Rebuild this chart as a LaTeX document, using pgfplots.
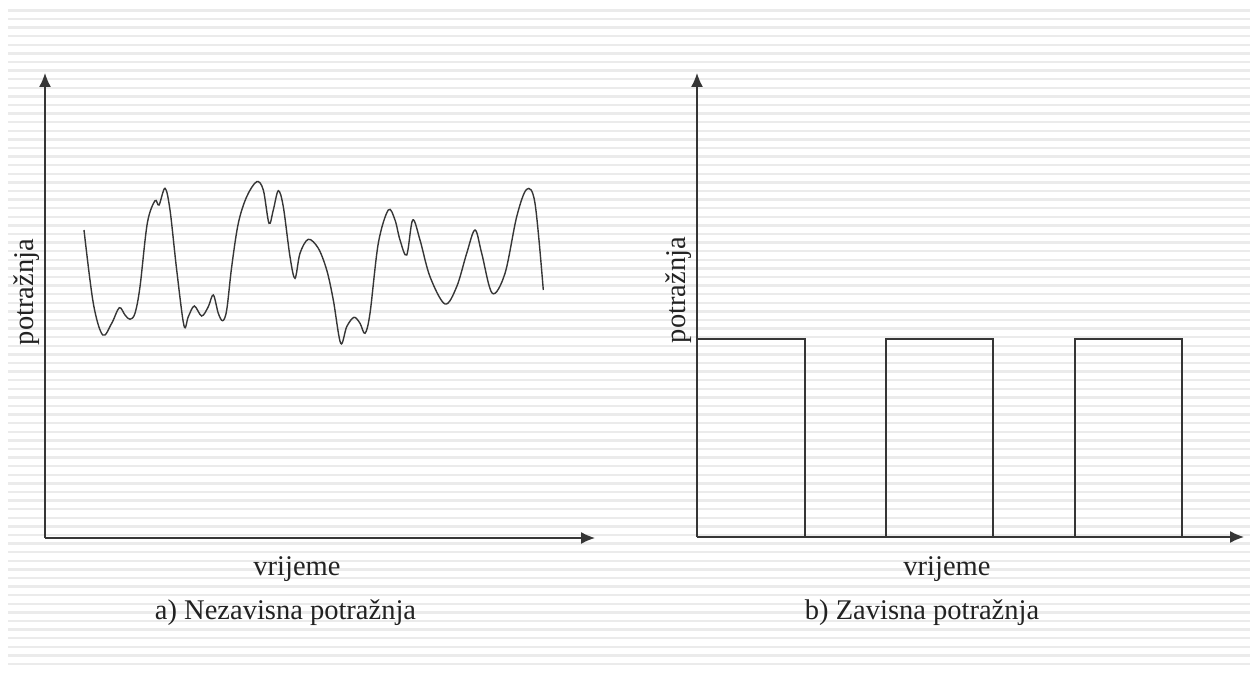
\documentclass[border=0pt]{standalone}
\usepackage{pgfplots}
\pgfplotsset{compat=1.18}
\usepackage{fontspec}
\setmainfont{Liberation Serif}
\usetikzlibrary{arrows.meta}
\definecolor{ink}{HTML}{363636}
\definecolor{txt}{HTML}{222222}
\definecolor{stripe}{HTML}{EBEBEB}
\tikzset{lbl/.style={font=\fontsize{28.5}{32}\selectfont, text=txt, inner sep=0pt}}
\pgfplotsset{
  bigarrows/.style={
    axis line style={ink, line width=1.4pt},
    every outer x axis line/.append style={-{Latex[length=14pt,width=12pt]}},
    every outer y axis line/.append style={-{Latex[length=14pt,width=12pt]}},
  }
}
\begin{document}
\begin{tikzpicture}
\useasboundingbox (0pt,0pt) rectangle (1257pt,675pt);
% background stripes
\begin{axis}[at={(8pt,0pt)}, anchor=south west, scale only axis,
  width=1242pt, height=675pt, xmin=0, xmax=1242, ymin=0, ymax=675,
  axis line style={draw=none}, tick style={draw=none},
  xtick=\empty, ytick={11,19.6,...,662}, yticklabels={},
  ymajorgrids, major grid style={color=stripe, line width=2.3pt}]
\end{axis}
% panel a
\begin{axis}[at={(45pt,137pt)}, anchor=south west, scale only axis,
  width=550pt, height=465pt, xmin=0, xmax=550, ymin=0, ymax=465,
  axis lines=left, ticks=none, clip=false, bigarrows]
\addplot[ink, line width=1.4pt, smooth, tension=0.55] coordinates {
(39,308) (48.3,234.7) (57.7,203) (66.7,214.7) (74.3,230.3) (80,223) (85,218.7)
(90,224.7) (95,251.3) (102.3,314.7) (110,337.3) (114,333) (120,349.7) (125,328)
(131.7,268) (139,212.3) (143.3,221.3) (149.3,232) (156.7,222) (163.3,231.3)
(168.3,243) (173.3,224.7) (177.7,217.3) (181.7,228) (186.7,271.3) (193.3,314.7)
(201.7,341.3) (211.7,356.3) (218.3,348) (224,314.7) (228.3,328) (233.3,347.3)
(238.3,331.3) (245,281.3) (250,259.7) (255,284.7) (263.3,298.7) (273.3,289.7)
(281.7,268) (288.3,238) (295.7,194.7) (301.7,211.3) (309,220.7) (315,214.7)
(320,204.7) (325,224.7) (333.3,294.7) (343.3,328) (350,318) (355,298)
(361.7,283) (367.7,318) (375,298) (385,261.3) (400,234) (411.7,251.3)
(421.7,284.7) (430,308) (436.7,284.7) (447.3,244.7) (460,264.7) (471.7,321.3)
(481.7,348.7) (490,334.7) (498.3,248)};
\node[lbl, anchor=base] at (axis cs:252,-37) {vrijeme};
\node[lbl, anchor=base] at (axis cs:240.5,-81) {a) Nezavisna potražnja};
\node[lbl, anchor=base, rotate=90] at (axis cs:-12,246) {potražnja};
\end{axis}
% panel b
\begin{axis}[at={(697pt,138pt)}, anchor=south west, scale only axis,
  width=547pt, height=464pt, xmin=0, xmax=547, ymin=0, ymax=464,
  axis lines=left, ticks=none, clip=false, bigarrows]
\addplot[ink, line width=1.4pt] coordinates {(0,0) (0,198) (108,198) (108,0)};
\addplot[ink, line width=1.4pt] coordinates {(189,0) (189,198) (296,198) (296,0)};
\addplot[ink, line width=1.4pt] coordinates {(378,0) (378,198) (485,198) (485,0)};
\node[lbl, anchor=base] at (axis cs:250,-38) {vrijeme};
\node[lbl, anchor=base] at (axis cs:225,-82) {b) Zavisna potražnja};
\node[lbl, anchor=base, rotate=90] at (axis cs:-12,247) {potražnja};
\end{axis}
\end{tikzpicture}
\end{document}
